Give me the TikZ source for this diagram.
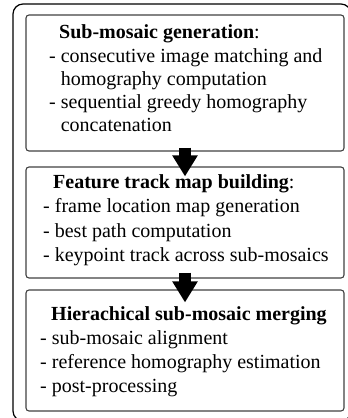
\documentclass[tikz,border=0pt]{standalone}
\usepackage{fontspec}
\setmainfont{Liberation Serif}
\usetikzlibrary{arrows.meta,calc}
\definecolor{boxgray}{HTML}{404040}
\begin{document}
\begin{tikzpicture}[x=1pt,y=-1pt,
  stagebox/.style={draw=boxgray, line width=1.1pt, rounded corners=3pt, minimum width=318pt, inner sep=0pt},
  txt/.style={anchor=base west, inner sep=0pt, font=\fontsize{20}{24}\selectfont},
  bigarrow/.style={line width=12pt, -{Triangle[width=24pt,length=21pt]}}]
\useasboundingbox (0,0) rectangle (348,418);
\begin{scope}
  \clip (0,0) rectangle (348,418);
  \draw[line width=1.2pt, rounded corners=10pt] (13,4) rectangle (351,421);
\end{scope}
\node[stagebox, minimum height=136pt] (b1) at (185,83) {};
\node[stagebox, minimum height=111pt] (b2) at (185,222.5) {};
\node[stagebox, minimum height=121pt] (b3) at (185,350.5) {};
% box 1
\node[txt] (t1) at (59,38.5) {\textbf{Sub-mosaic generation}:};
\node[txt] (t1a) at (49,62) {- consecutive image matching and};
\node[txt] (t1b) at (49,85) {\phantom{- }homography computation};
\node[txt] (t1c) at (49,108) {- sequential greedy homography};
\node[txt] (t1d) at (49,131) {\phantom{- }concatenation};
% box 2
\node[txt] (t2) at (53,188) {\textbf{Feature track map building}:};
\node[txt] (t2a) at (43,212.5) {- frame location map generation};
\node[txt] (t2b) at (43,237) {- best path computation};
\node[txt] (t2c) at (43,261.5) {- keypoint track across sub-mosaics};
% box 3
\node[txt] (t3) at (51,320) {\textbf{Hierachical sub-mosaic merging}};
\node[txt] (t3a) at (40,344.5) {- sub-mosaic alignment};
\node[txt] (t3b) at (40,368.5) {- reference homography estimation};
\node[txt] (t3c) at (40,392.5) {- post-processing};
% arrows
\draw[bigarrow] ([yshift=4pt]b1.south) -- ([yshift=-10pt]b2.north);
\draw[bigarrow] ([yshift=6pt]b2.south) -- ([yshift=-13pt]b3.north);
\end{tikzpicture}
\end{document}
